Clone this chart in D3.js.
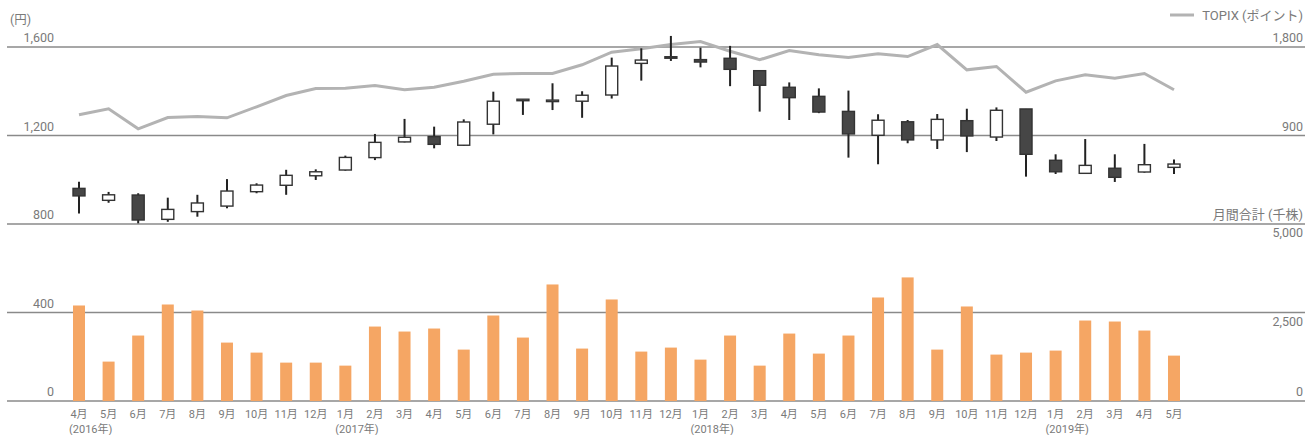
<!DOCTYPE html>
<html><head><meta charset="utf-8">
<script src="https://cdn.jsdelivr.net/npm/d3@7"></script>
<style>
html,body{margin:0;padding:0;background:#fff;}
svg{display:block;font-family:Roboto,"Noto Sans CJK JP",sans-serif;}
</style></head>
<body><svg id="c" width="1305" height="435"></svg>
<script>
const months = ["4月","5月","6月","7月","8月","9月","10月","11月","12月","1月","2月","3月","4月","5月","6月","7月","8月","9月","10月","11月","12月","1月","2月","3月","4月","5月","6月","7月","8月","9月","10月","11月","12月","1月","2月","3月","4月","5月"];
const yearLabels = [[0,"(2016年)"],[9,"(2017年)"],[21,"(2018年)"],[33,"(2019年)"]];
const openP  = [961,907,931,821,856,881,946,975,1018,1044,1100,1171,1195,1156,1251,1360,1357,1355,1383,1526,1556,1543,1549,1493,1418,1377,1309,1201,1262,1180,1267,1193,1320,1088,1029,1052,1035,1056];
const closeP = [927,932,818,866,895,949,976,1020,1036,1101,1169,1192,1160,1261,1355,1364,1360,1382,1514,1541,1550,1532,1499,1427,1371,1306,1207,1269,1180,1273,1198,1314,1115,1036,1065,1011,1068,1071];
const highP  = [991,945,939,919,932,1003,984,1045,1047,1109,1207,1275,1240,1273,1398,1365,1436,1400,1552,1594,1650,1597,1605,1496,1440,1413,1403,1296,1270,1297,1321,1327,1320,1115,1184,1115,1162,1092];
const lowP   = [848,896,803,810,833,871,939,932,999,1041,1089,1169,1142,1153,1205,1293,1315,1280,1367,1448,1537,1508,1423,1308,1270,1301,1100,1070,1165,1139,1125,1175,1014,1026,1029,990,1032,1026];
const topix  = [1111,1172,968,1083,1093,1080,1192,1307,1378,1381,1409,1365,1391,1452,1523,1531,1531,1619,1747,1782,1825,1856,1757,1670,1764,1721,1693,1731,1703,1825,1568,1602,1340,1456,1517,1483,1531,1365];
const volume = [2698,1113,1849,2726,2556,1650,1367,1084,1084,999,2103,1962,2047,1452,2415,1792,3292,1481,2868,1396,1509,1169,1849,999,1905,1339,1849,2924,3491,1452,2670,1311,1367,1424,2273,2245,1990,1282];
const leftTicks = [0,400,800,1200,1600];
const topixTicks = [900,1800];
const volTicks = [0,2500,5000];

const svg = d3.select("#c");
const idx = d3.range(months.length);
const x = d3.scalePoint().domain(idx).range([79,1174]);
const yP = d3.scaleLinear().domain([0,1600]).range([401,47]);
const yT = d3.scaleLinear().domain([900,1800]).range([yP(1200), yP(1600)]);
const yV = d3.scaleLinear().domain([0,5000]).range([yP(0), yP(800)]);
const fmt = d3.format(",");
const txtCol = "#7a7a7a";

// gridlines
svg.append("g").selectAll("line").data(leftTicks).join("line")
  .attr("x1",7).attr("x2",1305).attr("y1",d=>yP(d)).attr("y2",d=>yP(d))
  .attr("stroke","#8a8a8a").attr("stroke-width",1.3);

// left tick labels
svg.append("g").selectAll("text").data(leftTicks).join("text")
  .attr("x",54).attr("y",d=>yP(d)-5).attr("text-anchor","end")
  .attr("font-size",12.5).attr("fill",txtCol).text(d=>fmt(d));
svg.append("text").attr("x",10).attr("y",24).attr("font-size",12.5).attr("fill",txtCol).text("(円)");

// right labels
svg.append("g").selectAll("text").data(topixTicks).join("text")
  .attr("x",1303).attr("y",d=>yT(d)-5).attr("text-anchor","end")
  .attr("font-size",12.5).attr("fill",txtCol).text(d=>fmt(d));
svg.append("g").selectAll("text").data(volTicks).join("text")
  .attr("x",1303).attr("y",d=>d===0? yV(d)-5 : yV(d)+13).attr("text-anchor","end")
  .attr("font-size",12.5).attr("fill",txtCol).text(d=>fmt(d));
svg.append("text").attr("x",1303).attr("y",yP(800)-5).attr("text-anchor","end")
  .attr("font-size",13).attr("fill",txtCol).text("月間合計 (千株)");

// legend
svg.append("line").attr("x1",1170).attr("x2",1194).attr("y1",15).attr("y2",15)
  .attr("stroke","#b3b3b3").attr("stroke-width",3);
svg.append("text").attr("x",1303).attr("y",20).attr("text-anchor","end")
  .attr("font-size",13).attr("fill",txtCol).text("TOPIX (ポイント)");

// volume bars
const bw = 12;
svg.append("g").selectAll("rect").data(idx).join("rect")
  .attr("x",i=>x(i)-bw/2).attr("width",bw)
  .attr("y",i=>yV(volume[i])).attr("height",i=>yV(0)-yV(volume[i]))
  .attr("fill","#f5a664");

// TOPIX line
svg.append("path").datum(idx)
  .attr("d",d3.line().x(i=>x(i)).y(i=>yT(topix[i])))
  .attr("fill","none").attr("stroke","#b3b3b3").attr("stroke-width",3);

// candles
const cg = svg.append("g").selectAll("g").data(idx).join("g");
cg.append("line").attr("x1",i=>x(i)).attr("x2",i=>x(i))
  .attr("y1",i=>yP(highP[i])).attr("y2",i=>yP(lowP[i]))
  .attr("stroke","#222").attr("stroke-width",2);
cg.append("rect")
  .attr("x",i=>x(i)-6).attr("width",12)
  .attr("y",i=>yP(Math.max(openP[i],closeP[i])))
  .attr("height",i=>Math.max(1.5,Math.abs(yP(openP[i])-yP(closeP[i]))))
  .attr("fill",i=>closeP[i]>=openP[i]?"#fff":"#464646")
  .attr("stroke","#333").attr("stroke-width",1.4);

// x labels
svg.append("g").selectAll("text").data(idx).join("text")
  .attr("x",i=>x(i)).attr("y",418).attr("text-anchor","middle")
  .attr("font-size",11).attr("fill",txtCol).text(i=>months[i]);
svg.append("g").selectAll("text").data(yearLabels).join("text")
  .attr("x",d=>x(d[0])-10).attr("y",433).attr("text-anchor","start")
  .attr("font-size",11).attr("fill",txtCol).text(d=>d[1]);
</script></body></html>
